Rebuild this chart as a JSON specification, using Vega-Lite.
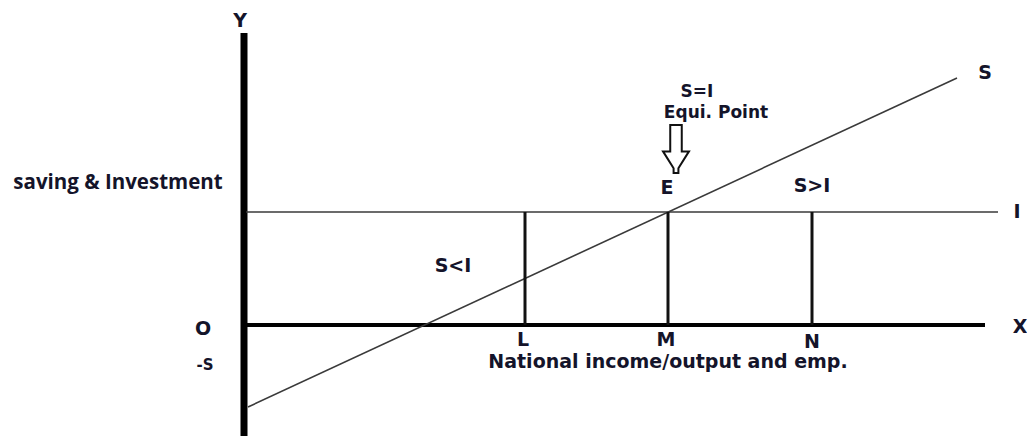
{
  "$schema": "https://vega.github.io/schema/vega-lite/v6.json",
  "width": 1027,
  "height": 436,
  "padding": 0,
  "autosize": {"type": "none"},
  "background": "white",
  "config": {"view": {"stroke": null}},
  "datasets": {
    "yaxis": [{"x": 0, "y": 29.2, "y2": -11.1}],
    "xaxis": [{"x": 0, "x2": 74.1, "y": 0}],
    "curves": [
      {"line": "I", "x": 0.2, "y": 11.3, "x2": 75.4, "y2": 11.3},
      {"line": "S", "x": 0.4, "y": -8.2, "x2": 71.3, "y2": 24.7}
    ],
    "verticals": [
      {"level": "L", "x": 28.1, "y": 0, "y2": 11.3},
      {"level": "M", "x": 42.4, "y": 0, "y2": 11.3},
      {"level": "N", "x": 56.8, "y": 0, "y2": 11.3}
    ],
    "arrow": [{"x": 43.2, "y": 17.6}],
    "labels": [
      {"text": "Y", "x": -0.4, "y": 30.4, "kind": "axis"},
      {"text": "X", "x": 77.6, "y": -0.2, "kind": "axis"},
      {"text": "I", "x": 77.3, "y": 11.3, "kind": "axis"},
      {"text": "S", "x": 74.1, "y": 25.2, "kind": "axis"},
      {"text": "O", "x": -4.1, "y": -0.4, "kind": "axis"},
      {"text": "-S", "x": -3.9, "y": -4.0, "kind": "tiny"},
      {"text": "L", "x": 27.9, "y": -1.5, "kind": "small"},
      {"text": "M", "x": 42.2, "y": -1.5, "kind": "small"},
      {"text": "N", "x": 56.8, "y": -1.7, "kind": "small"},
      {"text": "National income/output and emp.", "x": 42.4, "y": -3.7, "kind": "small"},
      {"text": "S<I", "x": 20.9, "y": 5.9, "kind": "small"},
      {"text": "S>I", "x": 56.8, "y": 13.9, "kind": "small"},
      {"text": "E", "x": 42.3, "y": 13.7, "kind": "small"},
      {"text": "S=I", "x": 45.3, "y": 23.3, "kind": "note"},
      {"text": "Equi. Point", "x": 47.2, "y": 21.2, "kind": "note"}
    ],
    "title": [{"text": "saving & Investment", "x": -12.6, "y": 14.2}]
  },
  "encoding": {},
  "layer": [
    {
      "data": {"name": "yaxis"},
      "mark": {"type": "rule", "strokeWidth": 7, "color": "black"},
      "encoding": {
        "x": {"field": "x", "type": "quantitative", "scale": {"domain": [-24.4, 78.3], "nice": false, "zero": false}, "axis": null},
        "y": {"field": "y", "type": "quantitative", "scale": {"domain": [-11.1, 32.5], "nice": false, "zero": false}, "axis": null},
        "y2": {"field": "y2"}
      }
    },
    {
      "data": {"name": "xaxis"},
      "mark": {"type": "rule", "strokeWidth": 4, "color": "black"},
      "encoding": {
        "x": {"field": "x", "type": "quantitative"},
        "x2": {"field": "x2"},
        "y": {"field": "y", "type": "quantitative"}
      }
    },
    {
      "data": {"name": "curves"},
      "mark": {"type": "rule", "strokeWidth": 1.6, "color": "#3a3a3a"},
      "encoding": {
        "x": {"field": "x", "type": "quantitative"},
        "x2": {"field": "x2"},
        "y": {"field": "y", "type": "quantitative"},
        "y2": {"field": "y2"}
      }
    },
    {
      "data": {"name": "verticals"},
      "mark": {"type": "rule", "strokeWidth": 3, "color": "#111"},
      "encoding": {
        "x": {"field": "x", "type": "quantitative"},
        "y": {"field": "y", "type": "quantitative"},
        "y2": {"field": "y2"}
      }
    },
    {
      "data": {"name": "arrow"},
      "mark": {
        "type": "point",
        "shape": "M-0.24,-1 L0.24,-1 L0.24,0.1 L0.54,0.1 L0.1,0.8 L0.1,1 L-0.1,1 L-0.1,0.8 L-0.54,0.1 L-0.24,0.1 Z",
        "size": 2304,
        "filled": true,
        "fill": "white",
        "stroke": "#111",
        "strokeWidth": 2,
        "opacity": 1
      },
      "encoding": {
        "x": {"field": "x", "type": "quantitative"},
        "y": {"field": "y", "type": "quantitative"}
      }
    },
    {
      "data": {"name": "labels"},
      "transform": [{"filter": "datum.kind === 'axis'"}],
      "mark": {"type": "text", "font": "DejaVu Sans", "fontWeight": "bold", "fontSize": 19, "color": "#14142a", "align": "center", "baseline": "middle"},
      "encoding": {
        "x": {"field": "x", "type": "quantitative"},
        "y": {"field": "y", "type": "quantitative"},
        "text": {"field": "text"}
      }
    },
    {
      "data": {"name": "labels"},
      "transform": [{"filter": "datum.kind === 'small'"}],
      "mark": {"type": "text", "font": "DejaVu Sans", "fontWeight": "bold", "fontSize": 19, "color": "#14142a", "align": "center", "baseline": "middle"},
      "encoding": {
        "x": {"field": "x", "type": "quantitative"},
        "y": {"field": "y", "type": "quantitative"},
        "text": {"field": "text"}
      }
    },
    {
      "data": {"name": "labels"},
      "transform": [{"filter": "datum.kind === 'note'"}],
      "mark": {"type": "text", "font": "DejaVu Sans", "fontWeight": "bold", "fontSize": 17, "color": "#14142a", "align": "center", "baseline": "middle"},
      "encoding": {
        "x": {"field": "x", "type": "quantitative"},
        "y": {"field": "y", "type": "quantitative"},
        "text": {"field": "text"}
      }
    },
    {
      "data": {"name": "labels"},
      "transform": [{"filter": "datum.kind === 'tiny'"}],
      "mark": {"type": "text", "font": "DejaVu Sans", "fontWeight": "bold", "fontSize": 15, "color": "#14142a", "align": "center", "baseline": "middle"},
      "encoding": {
        "x": {"field": "x", "type": "quantitative"},
        "y": {"field": "y", "type": "quantitative"},
        "text": {"field": "text"}
      }
    },
    {
      "data": {"name": "title"},
      "mark": {"type": "text", "font": "Open Sans", "fontWeight": "bold", "fontSize": 20.5, "color": "#14142a", "align": "center", "baseline": "middle"},
      "encoding": {
        "x": {"field": "x", "type": "quantitative"},
        "y": {"field": "y", "type": "quantitative"},
        "text": {"field": "text"}
      }
    }
  ]
}
